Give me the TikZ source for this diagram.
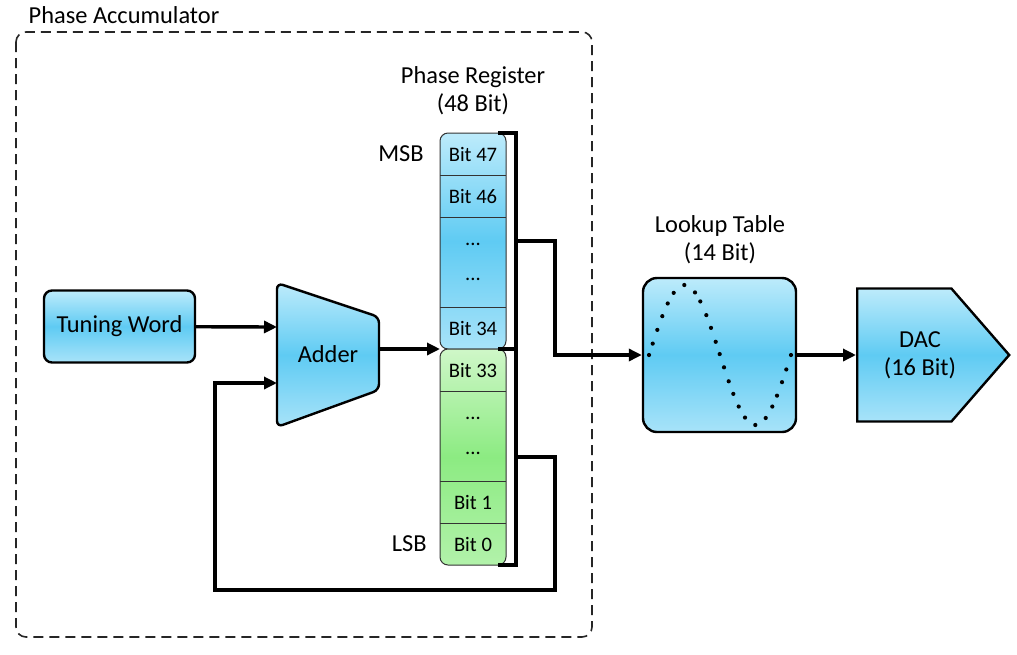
\documentclass[tikz,border=0pt]{standalone}
\usepackage{fontspec}
\setmainfont{Carlito}
\usepackage{tikz}
\usetikzlibrary{arrows.meta,shapes.symbols,positioning}
\usepackage{xcolor}
\definecolor{bluetop}{HTML}{BDEBFB}
\definecolor{bluemid}{HTML}{5FCBF3}
\definecolor{bluebot}{HTML}{A8E3F9}
\definecolor{greentop}{HTML}{CFF7C8}
\definecolor{greenmid}{HTML}{8CEB82}
\definecolor{greenbot}{HTML}{B2F2AA}
\newcommand\mainsz{\fontsize{12.2}{14}\selectfont}
\newcommand\bitsz{\fontsize{10.3}{12}\selectfont}

\begin{document}
\begin{tikzpicture}[x=0.5pt, y=-0.5pt, >={Triangle[length=6.5pt,width=6pt]},
  blueshade/.style={top color=bluetop, bottom color=bluebot, middle color=bluemid},
  greenshade/.style={top color=greentop, bottom color=greenbot, middle color=greenmid},
  block/.style={draw, line width=1.2pt, rounded corners=4pt, blueshade, align=center, font=\mainsz},
  cell/.style={minimum width=33pt, inner sep=0pt, outer sep=0pt, font=\bitsz, align=center},
  cellline/.style={line width=0.5pt, black!80},
  wire/.style={line width=1.7pt},
  lbl/.style={font=\mainsz, align=center, inner sep=0pt}]
  \useasboundingbox (0,0) rectangle (1017,654);

  % ---- Phase accumulator frame ----
  \draw[line width=0.8pt, black!85, dash pattern=on 5pt off 3pt, rounded corners=5pt]
    (16,32) rectangle (592,637);
  \node[lbl] (acclbl) at (124,15) {Phase Accumulator};

  % ---- Tuning word and adder ----
  \node[block, minimum width=75.5pt, minimum height=36pt] (tw) at (119.5,326.5) {Tuning Word};
  \shade[blueshade, draw, line width=1.2pt, rounded corners=3pt]
    (277,283) -- (379,317) -- (379,390) -- (277,427) -- cycle;
  \node[lbl] (adder) at (328,354) {Adder};
  \coordinate (adin1) at (277,327);
  \coordinate (adin2) at (277,383);
  \coordinate (adout) at (379,349);

  % ---- Phase register (48 bit) ----
  \shade[blueshade, draw, cellline, rounded corners=4pt] (440,133) rectangle (506,349);
  \shade[greenshade, draw, cellline, rounded corners=4pt] (440,349) rectangle (506,565);
  \foreach \n/\t/\y in {b47/Bit 47/154, b46/Bit 46/196, b34/Bit 34/328,
                        b33/Bit 33/370, b1/Bit 1/502, b0/Bit 0/544}
    \node[cell, minimum height=21pt] (\n) at (473,\y) {\t};
  \node[cell, minimum height=45pt] (bhi) at (473,262) {...\\[5.5pt]...};
  \node[cell, minimum height=45pt] (blo) at (473,436) {...\\[5.5pt]...};
  \foreach \c in {b47,b46,bhi,b33,blo,b1}
    \draw[cellline] (\c.south west) -- (\c.south east);
  \node[lbl] (reglbl) at (473,91) {Phase Register\\(48 Bit)};
  \node[lbl, left=8pt of b47] (msb) {MSB};
  \node[lbl, left=6.5pt of b0] (lsb) {LSB};

  % bracket round the register
  \draw[wire] (498,133) -- (516,133) -- (516,565) -- (498,565);
  \draw[wire] (498,349) -- (516,349);

  % ---- Lookup table and DAC ----
  \node[block, minimum width=76.5pt, minimum height=77pt, rounded corners=7pt] (lut) at (719.5,355) {};
  \foreach \x in {649, 652.7, 657.3, 662.3, 667.7, 673.7, 684.3, 695, 700.3, 706.3,
                  711, 715.7, 719.7, 724, 728.7, 733.3, 738.7, 745, 755.3,
                  765.7, 772.3, 777, 782, 786.3, 791}
    \fill (\x,{355-70*sin(2.5352*(\x-649))}) circle (1.05pt);
  \node[lbl] (lutlbl) at (720,240) {Lookup Table\\(14 Bit)};
  \node[block, rounded corners=0pt, signal, signal to=east, signal pointer angle=98,
        minimum width=76pt, minimum height=66.5pt, anchor=west] (dac) at (856,355) {};
  \node[lbl] (daclbl) at (920,355) {DAC\\(16 Bit)};

  % ---- Connectors ----
  \draw[wire, ->] (tw) -- (adin1);
  \draw[wire, ->] (adout) -- (b34.south west);
  \draw[wire, ->] (516,241) -| (555,355) -- (lut.west);
  \draw[wire, ->] (lut.east) -- (dac.west);
  \draw[wire, ->] (516,457) -| (555,590) -| (215,383) -- (adin2);
\end{tikzpicture}
\end{document}
